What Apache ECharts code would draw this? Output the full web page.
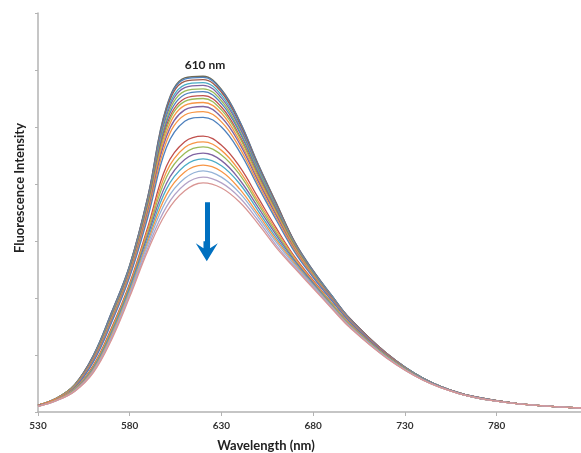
<!DOCTYPE html>
<html>
<head>
<meta charset="utf-8">
<script src="https://cdn.jsdelivr.net/npm/echarts@6/dist/echarts.min.js"></script>
<style>
  html, body { margin: 0; padding: 0; background: #fff; }
  #chart { width: 581px; height: 453px; }
</style>
</head>
<body>
<div id="chart"></div>
<script>
// wavelength grid (nm)
const wavelengths = [530, 540, 550, 560, 570, 580, 590, 600, 610, 620, 630, 640, 650, 660, 670, 680, 690, 700, 720, 740, 760, 780, 800, 826];

// emission spectra, first titration step on top, last at the bottom (a.u.)
const spectra = [
  [12, 24, 48, 98, 174, 258, 380, 535, 586, 589, 566, 510, 435, 366, 298, 248, 205, 164, 103, 59, 33, 20, 12, 7],
  [12, 24, 48, 98, 174, 257, 379, 533, 584, 587, 564, 509, 434, 365, 298, 248, 205, 164, 103, 59, 33, 20, 12, 7],
  [12, 24, 48, 97, 172, 256, 377, 529, 580, 583, 561, 505, 432, 364, 297, 247, 204, 164, 103, 59, 33, 20, 12, 7],
  [12, 24, 47, 96, 171, 255, 374, 524, 574, 578, 556, 501, 429, 361, 295, 246, 204, 163, 102, 59, 33, 20, 12, 7],
  [12, 24, 47, 95, 170, 253, 372, 519, 569, 573, 551, 498, 426, 359, 294, 245, 203, 163, 102, 59, 33, 20, 12, 7],
  [12, 24, 47, 94, 168, 251, 369, 513, 563, 567, 546, 493, 423, 357, 293, 244, 202, 162, 102, 59, 33, 20, 12, 7],
  [12, 23, 46, 94, 167, 250, 366, 508, 557, 562, 541, 490, 420, 355, 291, 244, 202, 162, 102, 59, 33, 20, 12, 7],
  [12, 23, 46, 93, 165, 248, 363, 502, 550, 555, 535, 484, 416, 352, 290, 242, 201, 161, 102, 58, 33, 20, 12, 7],
  [12, 23, 46, 92, 164, 246, 360, 497, 545, 550, 530, 481, 413, 350, 289, 242, 200, 161, 101, 58, 33, 20, 12, 7],
  [12, 23, 45, 91, 162, 244, 357, 490, 538, 543, 524, 475, 409, 347, 287, 240, 199, 160, 101, 58, 33, 20, 12, 7],
  [11, 23, 45, 90, 160, 242, 353, 483, 530, 536, 517, 470, 405, 344, 285, 239, 199, 160, 101, 58, 33, 20, 12, 7],
  [11, 23, 44, 88, 158, 240, 348, 474, 521, 527, 509, 463, 400, 340, 283, 238, 197, 159, 100, 58, 33, 20, 12, 7],
  [11, 22, 43, 87, 156, 237, 343, 464, 510, 517, 500, 456, 395, 336, 280, 236, 196, 158, 100, 58, 33, 20, 12, 7],
  [11, 22, 41, 81, 147, 226, 326, 431, 474, 484, 468, 430, 376, 322, 272, 231, 192, 155, 99, 57, 32, 19, 12, 7],
  [11, 22, 41, 79, 144, 223, 321, 421, 464, 474, 459, 422, 370, 318, 270, 229, 191, 154, 98, 57, 32, 19, 12, 7],
  [11, 21, 40, 78, 142, 221, 316, 412, 454, 465, 451, 416, 365, 314, 267, 227, 190, 153, 98, 57, 32, 19, 12, 7],
  [11, 21, 39, 76, 139, 218, 311, 401, 443, 454, 441, 407, 359, 310, 265, 226, 188, 152, 97, 57, 32, 19, 12, 7],
  [10, 21, 39, 75, 137, 215, 305, 391, 432, 444, 432, 400, 353, 305, 262, 224, 187, 152, 97, 57, 32, 19, 12, 7],
  [10, 21, 38, 73, 134, 211, 300, 381, 421, 433, 422, 391, 347, 301, 260, 222, 186, 151, 96, 56, 32, 19, 12, 7],
  [10, 20, 37, 71, 131, 208, 295, 371, 410, 423, 412, 384, 342, 297, 257, 221, 185, 150, 96, 56, 32, 19, 12, 7],
  [10, 20, 37, 70, 129, 205, 289, 360, 399, 412, 402, 376, 336, 292, 254, 219, 183, 149, 95, 56, 32, 19, 12, 7],
  [10, 20, 36, 68, 126, 202, 284, 350, 388, 402, 393, 368, 330, 288, 252, 217, 182, 148, 95, 56, 32, 19, 12, 7]
];

const lineColors = [
  '#6f6a55', '#4f81bd', '#a05a4a', '#4bacc6', '#8064a2', '#9bbb59', '#4f81bd', '#c0504d',
  '#9bbb59', '#f79646', '#8064a2', '#f79646', '#4f81bd', '#c0504d', '#f79646', '#9bbb59',
  '#8064a2', '#4bacc6', '#f79646', '#95b3d7', '#b3a2c7', '#d99694'
];

// quenching arrow (nm, intensity): shaft start, head centre
const arrowFrom = [622, 368];
const arrowHead = [622, 282];

const xTicks = { min: 530, max: 826, step: 50 };

const chart = echarts.init(document.getElementById('chart'));

const axisGrey = '#b3b3b3';
const arrowBlue = '#0070c0';
const font = 'Lato, "Open Sans", sans-serif';

const series = spectra.map((row, i) => ({
  type: 'line',
  data: row.map((v, k) => [wavelengths[k], v]),
  showSymbol: false,
  smooth: 0.4,
  silent: true,
  lineStyle: { width: 1.3, color: lineColors[i] },
  itemStyle: { color: lineColors[i] },
  z: 2
}));

// arrow on its own series so it sits above the curves
series.push({
  type: 'line',
  data: [],
  silent: true,
  markLine: {
    silent: true,
    symbol: ['none', 'none'],
    label: { show: false },
    lineStyle: { color: arrowBlue, width: 5, type: 'solid' },
    data: [[{ coord: arrowFrom }, { coord: arrowHead }]]
  },
  markPoint: {
    silent: true,
    symbol: 'path://M0,0 L10,0 L10,6 L20,0 L10,20 L0,0 Z',
    data: [{ coord: arrowHead, symbol: 'path://M0,0 L7,5 L7,-2 L13,-2 L13,5 L20,0 L10,18 Z', symbolSize: [22, 20], symbolKeepAspect: false }],
    itemStyle: { color: arrowBlue },
    label: { show: false }
  },
  z: 5
});

const option = {
  animation: false,
  grid: { left: 38, right: 0, top: 13, bottom: 41, containLabel: false },
  xAxis: {
    type: 'value',
    min: xTicks.min,
    max: xTicks.max,
    interval: xTicks.step,
    axisLine: { show: true, lineStyle: { color: axisGrey, width: 1.5 } },
    axisTick: { show: true, length: 4, lineStyle: { color: axisGrey } },
    axisLabel: {
      showMaxLabel: false,
      margin: 9,
      color: '#333',
      fontFamily: font,
      fontWeight: 'bold',
      fontSize: 10
    },
    splitLine: { show: false }
  },
  yAxis: {
    type: 'value',
    min: 0,
    max: 700,
    interval: 100,
    axisLine: { show: true, lineStyle: { color: axisGrey, width: 1.5 } },
    axisTick: { show: true, length: 3, lineStyle: { color: axisGrey } },
    axisLabel: { show: false },
    splitLine: { show: false }
  },
  graphic: [
    {
      type: 'text', x: 266, y: 446,
      style: { text: 'Wavelength (nm)', font: 'bold 13px ' + font, fill: '#222', align: 'center', verticalAlign: 'middle' }
    },
    {
      type: 'text', x: 20, y: 188, rotation: Math.PI / 2,
      style: { text: 'Fluorescence Intensity', font: 'bold 13px ' + font, fill: '#222', align: 'center', verticalAlign: 'middle' }
    },
    {
      type: 'text', x: 205, y: 65,
      style: { text: '610 nm', font: 'bold 12px ' + font, fill: '#222', align: 'center', verticalAlign: 'middle' }
    }
  ],
  series
};

chart.setOption(option);
</script>
</body>
</html>
